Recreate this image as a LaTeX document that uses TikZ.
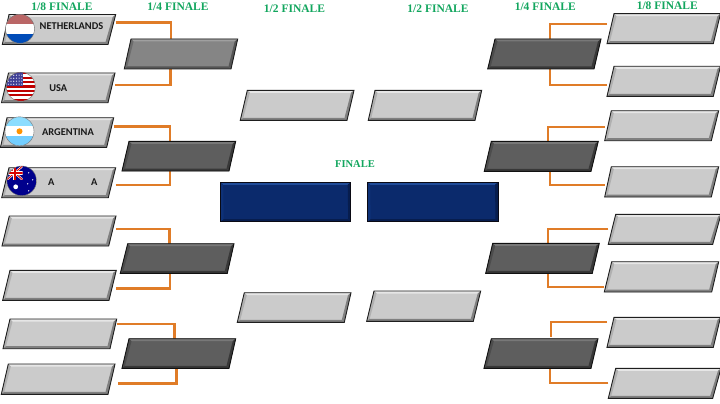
\documentclass[tikz,border=0pt]{standalone}
\usepackage{fontspec}
\setmainfont{Liberation Serif}
\newfontfamily\teamfont{Carlito}
\usetikzlibrary{calc}
\pgfdeclarelayer{back}
\pgfsetlayers{back,main}
\definecolor{lface}{HTML}{CBCBCB}\definecolor{lhi}{HTML}{E6E6E6}\definecolor{lleft}{HTML}{B0B0B0}\definecolor{llo}{HTML}{808080}\definecolor{lline}{HTML}{1E1E1E}
\definecolor{dface}{HTML}{5E5E5E}\definecolor{dhi}{HTML}{787878}\definecolor{dleft}{HTML}{4C4C4C}\definecolor{dlo}{HTML}{383838}\definecolor{dline}{HTML}{111111}
\definecolor{gface}{HTML}{858585}\definecolor{ghi}{HTML}{A0A0A0}\definecolor{gleft}{HTML}{6C6C6C}\definecolor{glo}{HTML}{555555}\definecolor{gline}{HTML}{1E1E1E}
\definecolor{bface}{HTML}{0B2A6C}\definecolor{bhi}{HTML}{1F4B98}\definecolor{bleft}{HTML}{0E3177}\definecolor{blo}{HTML}{071D4E}\definecolor{bline}{HTML}{0A0A14}
\definecolor{wire}{HTML}{E07C28}
\definecolor{headgreen}{HTML}{12A65E}
\tikzset{
  wirepath/.style={draw=wire,line width=2.2pt,line join=miter},
  hit/.style={inner sep=0pt,outer sep=0pt,rectangle},
  heading/.style={text=headgreen,font=\fontsize{11.5}{12}\selectfont\bfseries,inner sep=0pt},
  team/.style={text=black!90,font=\teamfont\fontsize{10.4}{11}\selectfont\bfseries,inner sep=0pt},
  disc/.style={draw=black!55,line width=0.4pt}
}
% name, x bottom-left, x top-left, x top-right, x bottom-right, y top, y bottom, colour prefix
\newcommand\para[8]{%
  \fill[#8face] (#2,#7) -- (#3,#6) -- (#4,#6) -- (#5,#7) -- cycle;
  \fill[#8hi] (#3,#6) -- (#4,#6) -- ({#4-3},{#6+2.5}) -- ({#3+2.5},{#6+2.5}) -- cycle;
  \fill[#8left] (#2,#7) -- (#3,#6) -- ({#3+2.5},{#6+2.5}) -- ({#2+3},{#7-2.5}) -- cycle;
  \fill[#8lo] (#4,#6) -- (#5,#7) -- ({#5-2.5},{#7-2.5}) -- ({#4-3},{#6+2.5}) -- cycle;
  \fill[#8lo] (#2,#7) -- (#5,#7) -- ({#5-2.5},{#7-2.5}) -- ({#2+3},{#7-2.5}) -- cycle;
  \draw[#8line,line width=0.9pt,line join=miter] (#2,#7) -- (#3,#6) -- (#4,#6) -- (#5,#7) -- cycle;
  \node[hit,minimum width={(#4-#2)*1pt},minimum height={(#7-#6)*1pt}] (#1) at ({(#2+#4)/2},{(#6+#7)/2}) {};
}
\begin{document}
\begin{tikzpicture}[x=1pt,y=-1pt]
\useasboundingbox (0,0) rectangle (720,404);
% left eighths
\para{la}{2.3}{9}{115.7}{108}{14.5}{44.5}{l}
\para{lb}{1.5}{8.5}{115}{108}{73}{102.7}{l}
\para{lc}{0.5}{7}{113.7}{106.7}{117.7}{147.3}{l}
\para{ld}{1.7}{9}{115.7}{108.3}{167.7}{197.7}{l}
\para{le}{2}{9.3}{116}{108.7}{216}{246}{l}
\para{lf}{2.7}{10}{116.3}{109}{270.3}{300.3}{l}
\para{lg}{3}{10}{116.7}{110}{319}{348.7}{l}
\para{lh}{1.3}{8.3}{115}{108}{364}{394.3}{l}
% left quarters
\para{qa}{124.3}{131}{237.7}{231}{39}{69}{g}
\para{qb}{122}{129}{235.7}{229}{141.3}{171}{d}
\para{qc}{120.3}{127.7}{234}{227.3}{243.7}{273.3}{d}
\para{qd}{122}{129}{235.7}{229}{338.7}{368.3}{d}
% semis
\para{sa}{240.3}{247.3}{354}{347}{90.3}{120.3}{l}
\para{sb}{368.3}{375}{481.7}{475}{90.3}{120.3}{l}
\para{sc}{237.3}{244.3}{351}{344.3}{292.7}{322.3}{l}
\para{sd}{366.7}{374}{480.7}{473.3}{291}{321.3}{l}
% finals
\para{fa}{220.7}{220.7}{350.7}{350.7}{182.3}{221.7}{b}
\para{fb}{367.7}{367.7}{498}{498}{182.3}{221.7}{b}
% right quarters
\para{ra}{487.7}{495}{601}{594}{39}{69}{d}
\para{rb}{484.3}{491.3}{598.3}{591}{141.3}{171.3}{d}
\para{rc}{485.7}{492.7}{599.3}{592.3}{243.3}{273.3}{d}
\para{rd}{484}{491.3}{598}{591}{338.7}{368.3}{d}
% right eighths
\para{ta}{607}{614}{720.5}{713.3}{13.7}{43.7}{l}
\para{tb}{607}{614}{720.5}{713.3}{66.3}{96.3}{l}
\para{tc}{604.7}{611.3}{718.7}{711.3}{110.7}{140.7}{l}
\para{td}{604.7}{611.3}{718.7}{711.3}{166.7}{197}{l}
\para{te}{608.3}{615.7}{721}{712.7}{214.3}{244.3}{l}
\para{tf}{604.3}{611.7}{718.7}{711.7}{261.7}{292}{l}
\para{tg}{607}{614}{720.5}{713.3}{317.3}{347.3}{l}
\para{th}{608.3}{615.7}{721}{712.7}{368.3}{398.3}{l}
% free ends
\coordinate (lhfree) at (118,383.5);
\coordinate (rdtop) at (550.7,336.7);
% connectors, behind the boxes
\begin{pgfonlayer}{back}
\fill[white] (0,0) rectangle (720,404);
\draw[wirepath] ([yshift=7pt]la.east) -| ([xshift=-10pt]qa.north);
\draw[wirepath] ([yshift=3pt]lb.east) -| ([xshift=-10.5pt]qa.south);
\draw[wirepath] ([yshift=6pt]lc.east) -| ([xshift=-9pt]qb.north);
\draw[wirepath] ([yshift=-2.3pt]ld.east) -| ([xshift=-9pt]qb.south);
\draw[wirepath] ([yshift=2pt]le.east) -| ([xshift=-7.6pt]qc.north);
\draw[wirepath] ([yshift=-3.2pt]lf.east) -| ([xshift=-7.2pt]qc.south);
\draw[wirepath] ([yshift=10pt]lg.east) -| ([xshift=-4.3pt]qd.north);
\draw[wirepath] (lhfree) -| ([xshift=-2.3pt]qd.south);
\draw[wirepath] ([yshift=4.4pt]ta.west) -| ([xshift=5.6pt]ra.north);
\draw[wirepath] ([yshift=-3.4pt]tb.west) -| ([xshift=5.6pt]ra.south);
\draw[wirepath] ([yshift=-1pt]tc.west) -| ([xshift=6.7pt]rb.north);
\draw[wirepath] ([yshift=-3.2pt]td.west) -| ([xshift=8.4pt]rb.south);
\draw[wirepath] ([yshift=0pt]te.west) -| ([xshift=5.5pt]rc.north);
\draw[wirepath] ([yshift=-10.5pt]tf.west) -| ([xshift=5.5pt]rc.south);
\draw[wirepath] ([yshift=10pt]tg.west) -| (rdtop);
\draw[wirepath] ([yshift=0pt]th.west) -| ([xshift=9pt]rd.south);
\end{pgfonlayer}
% headings
\node[heading] (h1) at (62,7) {1/8 FINALE};
\node[heading] (h2) at (178,6.5) {1/4 FINALE};
\node[heading] (h3) at (294.5,8.7) {1/2 FINALE};
\node[heading] (h4) at (438,9) {1/2 FINALE};
\node[heading] (h5) at (545.3,7) {1/4 FINALE};
\node[heading] (h6) at (667.3,6) {1/8 FINALE};
\node[heading,font=\fontsize{10.5}{11}\selectfont\bfseries] (h7) at (355,164) {FINALE};
% team labels
\node[team] (t1) at (71.5,26.5) {NETHERLANDS};
\node[team] (t2) at (58.3,88) {USA};
\node[team] (t3) at (68,132.5) {ARGENTINA};
\node[team] (t4a) at (51.3,182) {A};
\node[team] (t4b) at (94.3,182) {A};
% Netherlands flag
\begin{scope}[shift={(20,28.8)}]
\clip (0,0) circle[radius=14.5pt];
\fill[white] (-15,-15) rectangle (15,15);
\fill[red!55!black!80!white] (-15,-15) rectangle (15,-5);
\fill[blue!60!black!70!cyan] (-15,5) rectangle (15,15);
\fill[white,opacity=0.25] (-15,-15) rectangle (15,-5);
\end{scope}
\draw[disc] (20,28.8) circle[radius=14.5pt];
% USA flag
\begin{scope}[shift={(20.8,86.7)}]
\clip (0,0) circle[radius=14.5pt];
\fill[white] (-15,-15) rectangle (15,15);
\foreach \k in {0,...,6} {\fill[red!75!black] (-15,{-14.5+\k*4.4}) rectangle (15,{-12.3+\k*4.4});}
\fill[blue!45!black!75!white] (-15,-15) rectangle (2,-1);
\foreach \i in {0,...,5} {\foreach \j in {0,...,3} {\fill[white] ({-12.5+\i*2.7},{-11.5+\j*3}) circle[radius=0.6pt];}}
\end{scope}
\draw[disc] (20.8,86.7) circle[radius=14.5pt];
% Argentina flag
\begin{scope}[shift={(19.5,131.3)}]
\clip (0,0) circle[radius=14.5pt];
\fill[white] (-15,-15) rectangle (15,15);
\fill[blue!30!cyan!45!white] (-15,-15) rectangle (15,-5);
\fill[blue!35!cyan!55!white] (-15,5) rectangle (15,15);
\fill[orange!85!yellow] (0,0) circle[radius=3pt];
\end{scope}
\draw[disc] (19.5,131.3) circle[radius=14.5pt];
% Australia flag
\begin{scope}[shift={(21.7,180.8)}]
\clip (0,0) circle[radius=14.8pt];
\fill[blue!55!black] (-15,-15) rectangle (15,15);
\begin{scope}
\clip (-15,-15) rectangle (1,-1);
\draw[white,line width=2.2pt] (-15,-15) -- (1,-1) (-15,-1) -- (1,-15);
\draw[red!85!black,line width=0.9pt] (-15,-15) -- (1,-1) (-15,-1) -- (1,-15);
\draw[white,line width=3.4pt] (-7,-15) -- (-7,-1) (-15,-8) -- (1,-8);
\draw[red!85!black,line width=1.8pt] (-7,-15) -- (-7,-1) (-15,-8) -- (1,-8);
\end{scope}
\fill[white] (-6,6) circle[radius=2.4pt];
\foreach \p in {(7,-8),(11,-1),(6,3),(7,10)} {\fill[white] \p circle[radius=0.7pt];}
\end{scope}
\draw[disc] (21.7,180.8) circle[radius=14.8pt];
\end{tikzpicture}
\end{document}
